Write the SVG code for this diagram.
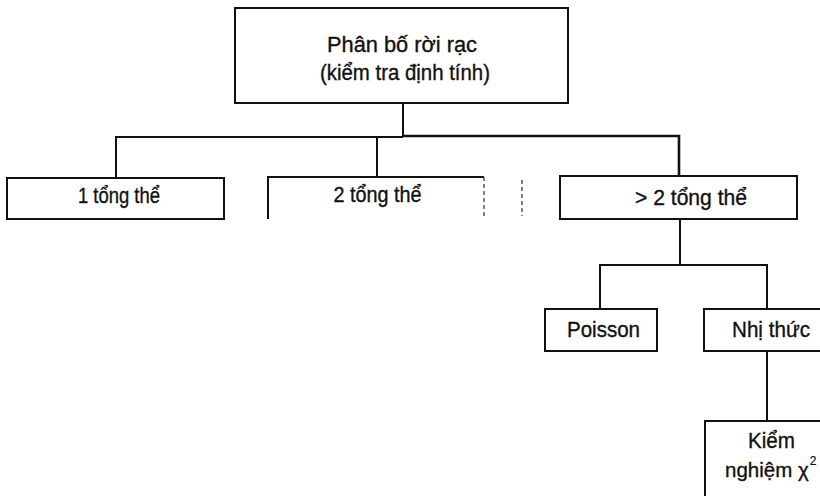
<svg xmlns="http://www.w3.org/2000/svg" width="820" height="496" viewBox="0 0 820 496">
<style>
.box{fill:#fff;stroke:#111;stroke-width:2}
.ln{fill:none;stroke:#111;stroke-width:2}
.t{font-family:"Liberation Sans",Arial,sans-serif;font-size:22px;fill:#111;stroke:#111;stroke-width:0.35;text-anchor:middle}
.dash{fill:none;stroke:#555;stroke-width:1.5;stroke-dasharray:4 3}
</style>
<rect width="820" height="496" fill="#fff"/>
<g id="connectors">
<path class="ln" d="M403 103V136"/>
<path class="ln" d="M116 178V137H403"/>
<path class="ln" d="M403 136H679V176" style="stroke-width:2.6"/>
<path class="ln" d="M377 137V177"/>
<path class="ln" d="M680 219V265"/>
<path class="ln" d="M600 309V265H767V309"/>
<path class="ln" d="M767 351V421"/>
</g>
<g id="root">
<rect class="box" x="235" y="8" width="333" height="95"/>
<text class="t" x="402" y="52" textLength="150" lengthAdjust="spacingAndGlyphs">Phân bố rời rạc</text>
<text class="t" x="405" y="80" textLength="170" lengthAdjust="spacingAndGlyphs">(kiểm tra định tính)</text>
</g>
<g id="n1">
<rect class="box" x="7" y="178" width="217" height="41"/>
<text class="t" x="119" y="203" textLength="82" lengthAdjust="spacingAndGlyphs">1 tổng thể</text>
</g>
<g id="n2">
<path class="ln" d="M268 219V177H484"/>
<path class="dash" d="M484 177V219"/>
<path class="dash" d="M522 180V216"/>
<text class="t" x="377.5" y="202" textLength="88" lengthAdjust="spacingAndGlyphs">2 tổng thể</text>
</g>
<g id="n3">
<rect class="box" x="560" y="176" width="237" height="43"/>
<text class="t" x="691" y="205" textLength="112" lengthAdjust="spacingAndGlyphs">&gt; 2 tổng thể</text>
</g>
<g id="poisson">
<rect class="box" x="545" y="309" width="112" height="42"/>
<text class="t" x="603.5" y="337" textLength="73" lengthAdjust="spacingAndGlyphs">Poisson</text>
</g>
<g id="nhithuc">
<rect class="box" x="704" y="309" width="120" height="42"/>
<text class="t" x="771" y="337" textLength="78" lengthAdjust="spacingAndGlyphs">Nhị thức</text>
</g>
<g id="kiem">
<rect class="box" x="705" y="421" width="120" height="80"/>
<text class="t" x="771.5" y="448" textLength="47" lengthAdjust="spacingAndGlyphs">Kiểm</text>
<text class="t" x="725" y="477" style="text-anchor:start;font-size:20.5px">nghiệm χ<tspan dx="1" dy="-12" style="font-size:12px;stroke-width:0.2">2</tspan></text>
</g>
</svg>
